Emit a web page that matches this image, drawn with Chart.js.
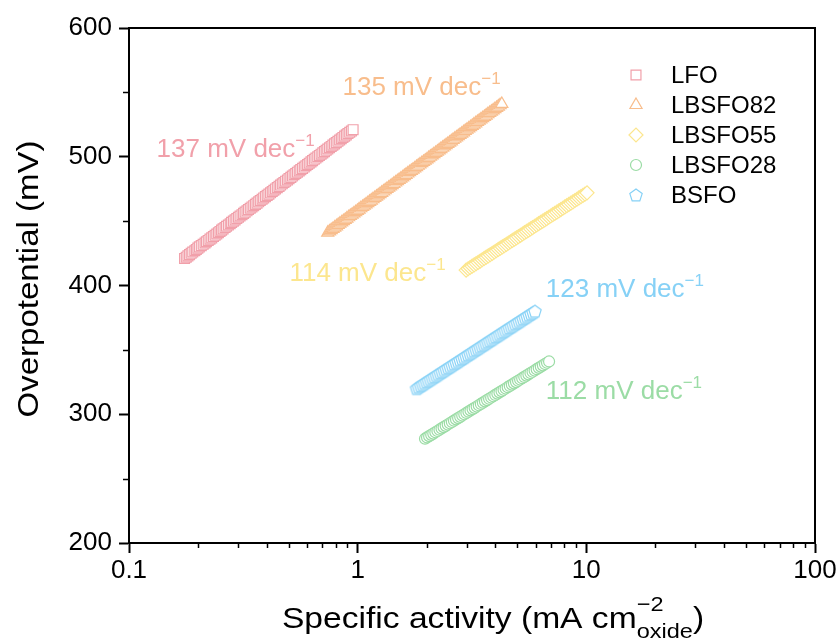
<!DOCTYPE html>
<html>
<head>
<meta charset="utf-8">
<script src="https://cdn.jsdelivr.net/npm/chart.js@4.4.1/dist/chart.umd.min.js"></script>
<style>
html, body { margin: 0; padding: 0; background: #fff; }
</style>
</head>
<body>
<canvas id="tafelChart" width="839" height="644"></canvas>
<script>
// Tafel data (x: mA cm-2 oxide, y: mV), one point per mV
const seriesNames = ['LFO', 'LBSFO82', 'LBSFO55', 'LBSFO28', 'BSFO']

const lfoX = [0.175,0.178,0.181,0.184,0.187,0.190,0.194,0.197,0.200,0.203,0.207,0.211,0.215,0.218,0.222,0.226,0.230,0.234,0.238,0.242,0.246,0.250,0.254,0.258,0.263,0.267,0.272,0.277,0.281,0.286,0.291,0.296,0.301,0.306,0.312,0.317,0.322,0.328,0.333,0.339,0.345,0.351,0.357,0.363,0.369,0.375,0.382,0.388,0.395,0.402,0.409,0.416,0.423,0.430,0.437,0.445,0.453,0.460,0.468,0.476,0.484,0.493,0.501,0.510,0.518,0.527,0.536,0.545,0.555,0.564,0.574,0.584,0.594,0.604,0.614,0.625,0.635,0.646,0.657,0.669,0.680,0.692,0.704,0.716,0.728,0.740,0.753,0.766,0.779,0.792,0.806,0.820,0.834,0.848,0.862,0.877,0.892,0.907,0.923,0.939,0.955]
const lfoY = [421,422,423,424,425,426,427,428,429,430,431,432,433,434,435,436,437,438,439,440,441,442,443,444,445,446,447,448,449,450,451,452,453,454,455,456,457,458,459,460,461,462,463,464,465,466,467,468,469,470,471,472,473,474,475,476,477,478,479,480,481,482,483,484,485,486,487,488,489,490,491,492,493,494,495,496,497,498,499,500,501,502,503,504,505,506,507,508,509,510,511,512,513,514,515,516,517,518,519,520,521]

const lbsfo82X = [0.740,0.753,0.766,0.780,0.794,0.808,0.822,0.836,0.851,0.866,0.882,0.897,0.913,0.929,0.946,0.963,0.980,0.997,1.014,1.032,1.051,1.069,1.088,1.107,1.127,1.147,1.167,1.188,1.209,1.230,1.252,1.274,1.297,1.320,1.343,1.367,1.391,1.415,1.440,1.466,1.492,1.518,1.545,1.572,1.600,1.628,1.657,1.686,1.716,1.746,1.777,1.809,1.841,1.873,1.907,1.940,1.975,2.010,2.045,2.081,2.118,2.155,2.194,2.232,2.272,2.312,2.353,2.394,2.436,2.479,2.523,2.568,2.613,2.659,2.706,2.754,2.803,2.852,2.904,2.955,3.007,3.061,3.115,3.170,3.225,3.283,3.341,3.400,3.460,3.521,3.583,3.647,3.711,3.777,3.845,3.913,3.981,4.051,4.123,4.196,4.270]
const lbsfo82Y = [441,442,443,444,445,446,447,448,449,450,451,452,453,454,455,456,457,458,459,460,461,462,463,464,465,466,467,468,469,470,471,472,473,474,475,476,477,478,479,480,481,482,483,484,485,486,487,488,489,490,491,492,493,494,495,496,497,498,499,500,501,502,503,504,505,506,507,508,509,510,511,512,513,514,515,516,517,518,519,520,521,522,523,524,525,526,527,528,529,530,531,532,533,534,535,536,537,538,539,540,541]

const lbsfo55X = [2.980,3.041,3.103,3.167,3.232,3.298,3.366,3.435,3.505,3.577,3.650,3.725,3.802,3.880,3.959,4.040,4.123,4.208,4.294,4.382,4.472,4.564,4.657,4.752,4.850,4.949,5.050,5.154,5.260,5.368,5.478,5.590,5.704,5.821,5.941,6.063,6.187,6.314,6.443,6.575,6.710,6.848,6.988,7.131,7.278,7.427,7.579,7.734,7.893,8.055,8.221,8.390,8.561,8.737,8.916,9.099,9.284,9.474,9.670,9.868,10.07]
const lbsfo55Y = [412,413,414,415,416,417,418,419,420,421,422,423,424,425,426,427,428,429,430,431,432,433,434,435,436,437,438,439,440,441,442,443,444,445,446,447,448,449,450,451,452,453,454,455,456,457,458,459,460,461,462,463,464,465,466,467,468,469,470,471,472]

const lbsfo28X = [1.970,2.011,2.054,2.097,2.141,2.186,2.232,2.279,2.327,2.376,2.426,2.477,2.529,2.582,2.637,2.692,2.750,2.808,2.866,2.926,2.988,3.051,3.115,3.181,3.247,3.315,3.385,3.456,3.529,3.603,3.679,3.756,3.835,3.916,3.998,4.082,4.169,4.257,4.346,4.437,4.531,4.626,4.724,4.823,4.925,5.029,5.134,5.242,5.353,5.466,5.580,5.697,5.818,5.940,6.065,6.193,6.323,6.456,6.592,6.731,6.871]
const lbsfo28Y = [281,282,283,284,285,286,287,288,289,290,291,292,293,294,295,296,297,298,299,300,301,302,303,304,305,306,307,308,309,310,311,312,313,314,315,316,317,318,319,320,321,322,323,324,325,326,327,328,329,330,331,332,333,334,335,336,337,338,339,340,341]

const bsfoX = [1.810,1.846,1.884,1.922,1.960,1.999,2.039,2.080,2.122,2.165,2.208,2.252,2.297,2.343,2.390,2.438,2.487,2.537,2.588,2.640,2.693,2.747,2.802,2.858,2.915,2.973,3.034,3.095,3.156,3.219,3.285,3.351,3.417,3.486,3.556,3.627,3.700,3.774,3.850,3.927,4.006,4.086,4.169,4.253,4.338,4.425,4.513,4.604,4.696,4.790,4.887,4.985,5.084,5.186,5.291,5.397,5.505,5.615,5.728,5.843,5.960]
const bsfoY = [320,321,322,323,324,325,326,327,328,329,330,331,332,333,334,335,336,337,338,339,340,341,342,343,344,345,346,347,348,349,350,351,352,353,354,355,356,357,358,359,360,361,362,363,364,365,366,367,368,369,370,371,372,373,374,375,376,377,378,379,380]

// Tafel slope labels (mV dec-1), in the same order as their anchors below
const slopeTexts = ['137', '135', '114', '123', '112']

// Axis ticks
const xMajorTicks = [0.1, 1, 10, 100]
const xMinorTicks = [0.2,0.3,0.4,0.5,0.6,0.7,0.8,0.9,2,3,4,5,6,7,8,9,20,30,40,50,60,70,80,90]
const yMinorTicks = [250, 350, 450, 550]

// ---- styling ----
const FONT = '"Liberation Sans", Arial, sans-serif'
const colors = ['rgb(241,160,170)', 'rgb(248,189,140)', 'rgb(252,230,142)', 'rgb(155,220,165)', 'rgb(134,209,246)']

// where the slope labels sit, in data coordinates (left edge, baseline)
const slopeAnchors = [
    {x: 0.132, y: 500, color: colors[0]},
    {x: 0.858, y: 548, color: colors[1]},
    {x: 0.503, y: 403.5, color: colors[2]},
    {x: 6.65, y: 391, color: colors[4]},
    {x: 6.65, y: 312, color: colors[3]}
]

function makePentagon(color) {
    const c = document.createElement('canvas')
    c.width = 16
    c.height = 16
    const g = c.getContext('2d')
    g.beginPath()
    for (let i = 0; i < 5; i++) {
        const ang = -Math.PI / 2 + i * 2 * Math.PI / 5
        const px = 8 + 6.5 * Math.cos(ang)
        const py = 8.6 + 6.5 * Math.sin(ang)
        if (i == 0) g.moveTo(px, py)
        else g.lineTo(px, py)
    }
    g.closePath()
    g.fillStyle = '#fff'
    g.fill()
    g.strokeStyle = color
    g.lineWidth = 1.2
    g.stroke()
    return c
}

function toPoints(xs, ys) {
    return xs.map((v, i) => ({x: v, y: ys[i]}))
}

const pointStyles = ['rect', 'triangle', 'rectRot', 'circle', makePentagon(colors[4])]
const pointRadii = [7, 7, 7, 5.5, 7]
const seriesData = [
    toPoints(lfoX, lfoY),
    toPoints(lbsfo82X, lbsfo82Y),
    toPoints(lbsfo55X, lbsfo55Y),
    toPoints(lbsfo28X, lbsfo28Y),
    toPoints(bsfoX, bsfoY)
]

const datasets = seriesNames.map((name, i) => ({
    label: name,
    data: seriesData[i],
    showLine: false,
    pointStyle: pointStyles[i],
    pointRadius: pointRadii[i],
    pointBorderWidth: 1.2,
    pointBorderColor: colors[i],
    pointBackgroundColor: '#fff',
    borderColor: colors[i],
    backgroundColor: '#fff'
}))

// draw text pieces with super/subscripts, sx stretches horizontally
function drawPieces(ctx, pieces, x, y, sx) {
    sx = sx || 1
    ctx.save()
    ctx.translate(x, y)
    ctx.scale(sx, 1)
    let cx = 0
    pieces.forEach(p => {
        if (p.stack) {
            let w = 0
            p.stack.forEach(s => {
                ctx.font = s.size + 'px ' + FONT
                ctx.fillText(s.t, cx, s.dy)
                w = Math.max(w, ctx.measureText(s.t).width)
            })
            cx += w
        } else {
            ctx.font = p.size + 'px ' + FONT
            ctx.fillText(p.t, cx, p.dy || 0)
            cx += ctx.measureText(p.t).width
        }
    })
    ctx.restore()
    return cx * sx
}

function piecesWidth(ctx, pieces, sx) {
    let w = 0
    pieces.forEach(p => {
        if (p.stack) {
            let m = 0
            p.stack.forEach(s => {
                ctx.font = s.size + 'px ' + FONT
                m = Math.max(m, ctx.measureText(s.t).width)
            })
            w += m
        } else {
            ctx.font = p.size + 'px ' + FONT
            w += ctx.measureText(p.t).width
        }
    })
    return w * (sx || 1)
}

const extrasPlugin = {
    id: 'tafelExtras',
    afterDraw(chart) {
        const ctx = chart.ctx
        const a = chart.chartArea
        const xs = chart.scales.x
        const ys = chart.scales.y
        ctx.save()

        // frame top + right
        ctx.strokeStyle = '#000'
        ctx.lineWidth = 2
        ctx.beginPath()
        ctx.moveTo(a.left - 1, a.top)
        ctx.lineTo(a.right, a.top)
        ctx.lineTo(a.right, a.bottom + 1)
        ctx.stroke()

        // minor ticks
        ctx.lineWidth = 1.5
        ctx.beginPath()
        xMinorTicks.forEach(v => {
            const px = Math.round(xs.getPixelForValue(v)) + 0.5
            ctx.moveTo(px, a.bottom)
            ctx.lineTo(px, a.bottom + 5)
        })
        yMinorTicks.forEach(v => {
            const py = Math.round(ys.getPixelForValue(v)) + 0.5
            ctx.moveTo(a.left, py)
            ctx.lineTo(a.left - 6, py)
        })
        ctx.stroke()

        // slope labels
        ctx.textBaseline = 'alphabetic'
        ctx.textAlign = 'left'
        slopeTexts.forEach((t, i) => {
            const an = slopeAnchors[i]
            ctx.fillStyle = an.color
            drawPieces(ctx, [
                {t: t + ' mV dec', size: 26},
                {t: '\u22121', size: 17, dy: -11}
            ], xs.getPixelForValue(an.x), ys.getPixelForValue(an.y))
        })

        // legend
        const lx = a.left + 507
        let ly = a.top + 47
        chart.data.datasets.forEach((ds, i) => {
            ctx.fillStyle = '#fff'
            ctx.strokeStyle = colors[i]
            ctx.lineWidth = 1.2
            if (ds.pointStyle instanceof HTMLCanvasElement) {
                ctx.drawImage(ds.pointStyle, lx - 8, ly - 8)
            } else {
                Chart.helpers.drawPoint(ctx, {pointStyle: ds.pointStyle, radius: ds.pointRadius, rotation: 0, borderWidth: 1.2}, lx, ly)
            }
            ctx.fillStyle = '#000'
            ctx.font = '24px ' + FONT
            ctx.textBaseline = 'middle'
            ctx.fillText(ds.label, lx + 35, ly + 1)
            ly += 30
        })

        // x axis title with super/subscript
        ctx.fillStyle = '#000'
        ctx.textBaseline = 'alphabetic'
        const titlePieces = [
            {t: 'Specific activity (mA cm', size: 30},
            {stack: [{t: '\u22122', size: 21, dy: -17}, {t: 'oxide', size: 21, dy: 10}]},
            {t: ')', size: 30}
        ]
        const stretch = 1.12
        const tw = piecesWidth(ctx, titlePieces, stretch)
        drawPieces(ctx, titlePieces, 493 - tw / 2, 628, stretch)

        // y axis title
        ctx.save()
        ctx.translate(30, 279)
        ctx.rotate(-Math.PI / 2)
        ctx.scale(1.1, 1)
        ctx.textAlign = 'center'
        ctx.textBaseline = 'middle'
        ctx.font = '30px ' + FONT
        ctx.fillText('Overpotential (mV)', 0, 0)
        ctx.restore()

        ctx.restore()
    }
}

const config = {
    type: 'scatter',
    data: {datasets: datasets},
    options: {
        responsive: false,
        animation: false,
        layout: {padding: {top: 28, right: 24, left: 0, bottom: 0}},
        scales: {
            x: {
                type: 'logarithmic',
                min: 0.1,
                max: 100,
                afterBuildTicks: scale => {
                    scale.ticks = xMajorTicks.map(v => ({value: v}))
                },
                afterFit: scale => { scale.height = 101 },
                ticks: {
                    color: '#000',
                    font: {family: FONT, size: 26},
                    padding: 2,
                    maxRotation: 0,
                    autoSkip: false,
                    callback: v => String(v)
                },
                grid: {drawOnChartArea: false, drawTicks: true, tickLength: 10, tickColor: '#000', tickWidth: 2},
                border: {display: true, color: '#000', width: 2}
            },
            y: {
                min: 200,
                max: 600,
                afterFit: scale => { scale.width = 129 },
                ticks: {
                    stepSize: 100,
                    color: '#000',
                    font: {family: FONT, size: 26},
                    padding: 7
                },
                grid: {drawOnChartArea: false, drawTicks: true, tickLength: 10, tickColor: '#000', tickWidth: 2},
                border: {display: true, color: '#000', width: 2}
            }
        },
        plugins: {
            legend: {display: false},
            tooltip: {enabled: false}
        }
    },
    plugins: [extrasPlugin]
}

const tafelChart = new Chart(document.getElementById('tafelChart'), config)
</script>
</body>
</html>
